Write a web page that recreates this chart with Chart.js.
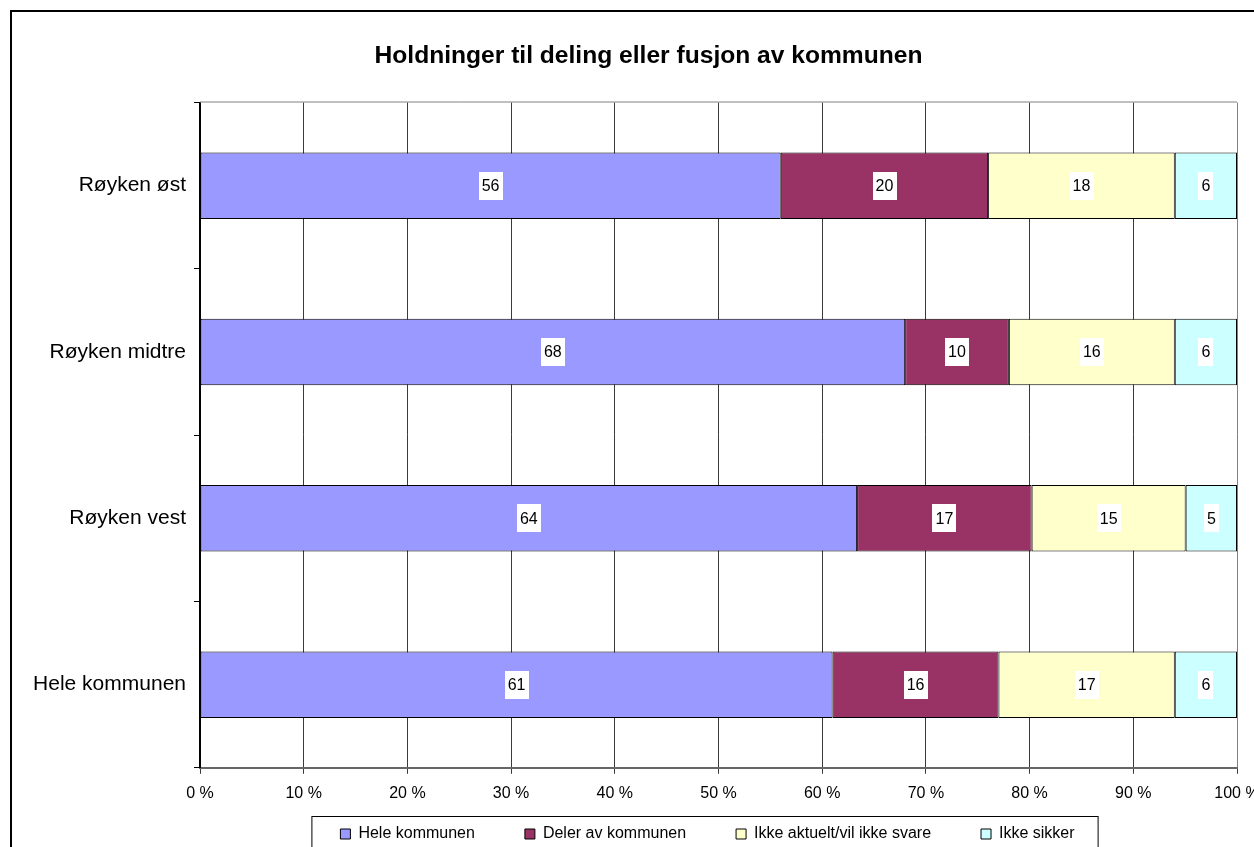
<!DOCTYPE html>
<html>
<head>
<meta charset="utf-8">
<script src="https://cdn.jsdelivr.net/npm/chart.js@4/dist/chart.umd.min.js"></script>
<style>
    html, body { margin: 0; padding: 0; background: #fff; overflow: hidden; }
    #chart { display: block; }
</style>
</head>
<body>
<canvas id="chart" width="1296" height="900"></canvas>
<script>
// Data
const categories = ['Røyken øst', 'Røyken midtre', 'Røyken vest', 'Hele kommunen'];
const seriesNames = ['Hele kommunen', 'Deler av kommunen', 'Ikke aktuelt/vil ikke svare', 'Ikke sikker'];
const heleKommunen = [56, 68, 64, 61];
const delerAvKommunen = [20, 10, 17, 16];
const ikkeAktuelt = [18, 16, 15, 17];
const ikkeSikker = [6, 6, 5, 6];
const xTickValues = [0, 10, 20, 30, 40, 50, 60, 70, 80, 90, 100];

const seriesValues = [heleKommunen, delerAvKommunen, ikkeAktuelt, ikkeSikker];
const seriesColors = ['#9999FF', '#993366', '#FFFFCC', '#CCFFFF'];
const FONT = 'Arial, "Liberation Sans", sans-serif';

// 100 % stacked: each row is scaled to its own total
const rowTotals = categories.map((c, i) => seriesValues.reduce((s, arr) => s + arr[i], 0));
const toPercent = arr => arr.map((v, i) => v / rowTotals[i] * 100);

const datasets = seriesValues.map((arr, k) => ({
    label: seriesNames[k],
    data: toPercent(arr),
    raw: arr,
    backgroundColor: seriesColors[k],
    borderColor: '#000',
    borderWidth: 1,
    borderSkipped: false,
    categoryPercentage: 1,
    barPercentage: 0.4
}));

// Outer frame, plot frame and legend box
const frame = {
    id: 'frame',
    afterLayout(chart) {
        // the title sits centred on the whole (cropped) frame, not the plot
        const t = chart.titleBlock;
        t.left += 30;
        t.right += 30;
        // pull the legend row up under the axis, as in the original
        const lg = chart.legend;
        const shift = lg.options.labels.padding - 13;
        lg.top -= shift;
        lg.bottom -= shift;
        lg.left -= 11;
        lg.right -= 11;
    },
    beforeDatasetsDraw(chart) {
        const {ctx, chartArea: a} = chart;
        ctx.save();
        ctx.strokeStyle = '#808080';
        ctx.lineWidth = 1;
        ctx.beginPath();
        ctx.moveTo(a.left, a.top - 0.5);
        ctx.lineTo(a.right, a.top - 0.5);
        ctx.stroke();
        ctx.restore();
    },
    afterDraw(chart) {
        const {ctx} = chart;
        ctx.save();
        ctx.strokeStyle = '#000';
        ctx.lineWidth = 2;
        ctx.strokeRect(11, 11, chart.width - 22, chart.height - 22);

        const boxes = chart.legend.legendHitBoxes;
        if (boxes.length) {
            const first = boxes[0];
            const last = boxes[boxes.length - 1];
            const top = chart.scales.x.bottom + 3;
            ctx.lineWidth = 1;
            ctx.strokeRect(first.left - 28.5, top + 0.5, last.left + last.width - first.left + 52, 60);
        }
        ctx.restore();
    }
};

// Value labels on white boxes in the middle of each segment
const valueLabels = {
    id: 'valueLabels',
    afterDatasetsDraw(chart) {
        const {ctx} = chart;
        ctx.save();
        ctx.font = '16px ' + FONT;
        ctx.textAlign = 'center';
        ctx.textBaseline = 'middle';
        chart.data.datasets.forEach((ds, k) => {
            const meta = chart.getDatasetMeta(k);
            meta.data.forEach((bar, i) => {
                const txt = String(ds.raw[i]);
                const cx = (bar.x + bar.base) / 2;
                const cy = bar.y;
                const w = ctx.measureText(txt).width + 6;
                ctx.fillStyle = '#fff';
                ctx.fillRect(Math.round(cx - w / 2), Math.round(cy - 14), Math.round(w), 28);
                ctx.fillStyle = '#000';
                ctx.fillText(txt, cx, cy + 1);
            });
        });
        ctx.restore();
    }
};

new Chart(document.getElementById('chart'), {
    type: 'bar',
    data: {
        labels: categories,
        datasets: datasets
    },
    options: {
        indexAxis: 'y',
        responsive: false,
        animation: false,
        layout: {
            padding: {left: 0, right: 59, top: 0, bottom: 11}
        },
        scales: {
            x: {
                stacked: true,
                min: 0,
                max: 100,
                afterBuildTicks: scale => {
                    scale.ticks = xTickValues.map(v => ({value: v}));
                },
                ticks: {
                    callback: v => v + ' %',
                    color: '#000',
                    font: {family: FONT, size: 16},
                    padding: 10,
                    maxRotation: 0
                },
                grid: {
                    color: ctx => ctx.tick && ctx.tick.value === 100 ? '#808080' : '#3a3a3a',
                    tickColor: '#3a3a3a',
                    tickLength: 6,
                    lineWidth: 1
                },
                border: {color: '#666', width: 2}
            },
            y: {
                stacked: true,
                afterFit: scale => { scale.width = 200; },
                ticks: {
                    color: '#000',
                    font: {family: FONT, size: 21},
                    padding: 8
                },
                grid: {
                    offset: true,
                    drawOnChartArea: false,
                    color: '#000',
                    tickLength: 6
                },
                border: {color: '#000', width: 2}
            }
        },
        plugins: {
            title: {
                display: true,
                text: 'Holdninger til deling eller fusjon av kommunen',
                color: '#000',
                font: {family: FONT, size: 24.6, weight: 'bold'},
                padding: {top: 41, bottom: 32}
            },
            legend: {
                position: 'bottom',
                fullSize: false,
                labels: {
                    color: '#000',
                    font: {family: FONT, size: 16},
                    boxWidth: 10,
                    boxHeight: 10,
                    padding: 50
                }
            },
            tooltip: {enabled: false}
        }
    },
    plugins: [frame, valueLabels]
});
</script>
</body>
</html>
